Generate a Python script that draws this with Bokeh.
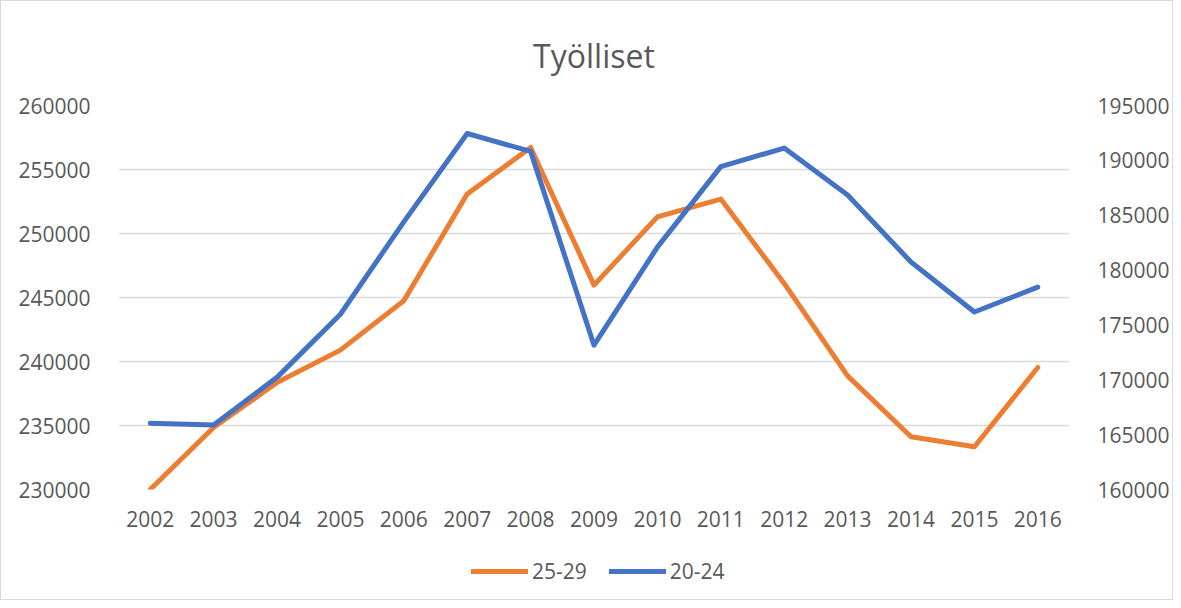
from bokeh.plotting import figure
from bokeh.models import (FactorRange, Range1d, LinearAxis, FixedTicker,
                          BasicTickFormatter, Legend, LegendItem)
from bokeh.layouts import column
from bokeh.embed import file_html
from bokeh.resources import INLINE

years = ["2002", "2003", "2004", "2005", "2006", "2007", "2008", "2009",
         "2010", "2011", "2012", "2013", "2014", "2015", "2016"]
v25_29 = [230000, 234840, 238360, 240890, 244740, 253080, 256720, 245970,
          251300, 252690, 246100, 238880, 234120, 233340, 239530]
v20_24 = [166040, 165880, 170220, 175970, 184400, 192450, 190820, 173150,
          182090, 189430, 191120, 186850, 180730, 176180, 178450]
left_ticks = [230000, 235000, 240000, 245000, 250000, 255000, 260000]
right_ticks = [160000, 165000, 170000, 175000, 180000, 185000, 190000, 195000]

FONT = "Open Sans"
TXT = "#595959"
ORANGE = "#ED7D31"
BLUE = "#4472C4"
W = 1171
H1 = 545
H2 = 53

p = figure(width=W, height=H1, x_range=FactorRange(*years, range_padding=0),
           y_range=Range1d(230000, 260000), output_backend="svg",
           toolbar_location=None, title="Työlliset",
           min_border_left=117, min_border_right=W + 1 - 1072,
           min_border_top=104, min_border_bottom=H1 - 488)
p.extra_y_ranges = {"right": Range1d(160000, 195000)}
p.outline_line_color = None

p.title.align = "center"
p.title.text_font = FONT
p.title.text_font_size = "32px"
p.title.text_font_style = "normal"
p.title.text_color = TXT
p.title.standoff = 58

p.xgrid.grid_line_color = None
p.ygrid.grid_line_color = "#d9d9d9"
p.ygrid.grid_line_width = 1.5

r1 = p.line(years, v25_29, line_color=ORANGE, line_width=5, line_cap="round", line_join="round")
r2 = p.line(years, v20_24, line_color=BLUE, line_width=5, line_cap="round", line_join="round",
            y_range_name="right")

ax_r = LinearAxis(y_range_name="right")
p.add_layout(ax_r, "right")

for ax in [p.yaxis[0], ax_r]:
    ax.formatter = BasicTickFormatter(use_scientific=False)
    ax.major_label_standoff = 22
p.yaxis[0].ticker = FixedTicker(ticks=left_ticks)
ax_r.ticker = FixedTicker(ticks=right_ticks)

for ax in p.axis:
    ax.axis_line_color = None
    ax.major_tick_line_color = None
    ax.minor_tick_line_color = None
    ax.major_label_text_font = FONT
    ax.major_label_text_font_size = "21px"
    ax.major_label_text_color = TXT
p.xaxis.major_label_standoff = 15

# legend strip: same series drawn off-screen (clipped), only the legend shows
p2 = figure(width=W, height=H2, x_range=FactorRange(*years, range_padding=0),
            y_range=Range1d(0, 1), output_backend="svg", toolbar_location=None,
            min_border=0, min_border_left=0, min_border_right=0,
            min_border_top=0, min_border_bottom=0)
p2.axis.visible = False
p2.grid.grid_line_color = None
p2.outline_line_color = None
l1 = p2.line(years, v25_29, line_color=ORANGE, line_width=5, line_cap="round")
l2 = p2.line(years, v20_24, line_color=BLUE, line_width=5, line_cap="round")

legend = Legend(items=[LegendItem(label="25-29", renderers=[l1]),
                       LegendItem(label="20-24", renderers=[l2])],
                orientation="horizontal", location=(353, 14))
legend.border_line_color = None
legend.background_fill_alpha = 0
legend.label_text_font = FONT
legend.label_text_font_size = "21px"
legend.label_text_color = TXT
legend.glyph_width = 57
legend.glyph_height = 20
legend.label_height = 20
legend.spacing = 22
legend.label_standoff = 4
legend.padding = 0
legend.margin = 0
p2.add_layout(legend, "center")

layout = column(p, p2, styles={"border": "1px solid #d9d9d9"})
open("out.html", "w").write(file_html(layout, INLINE))
